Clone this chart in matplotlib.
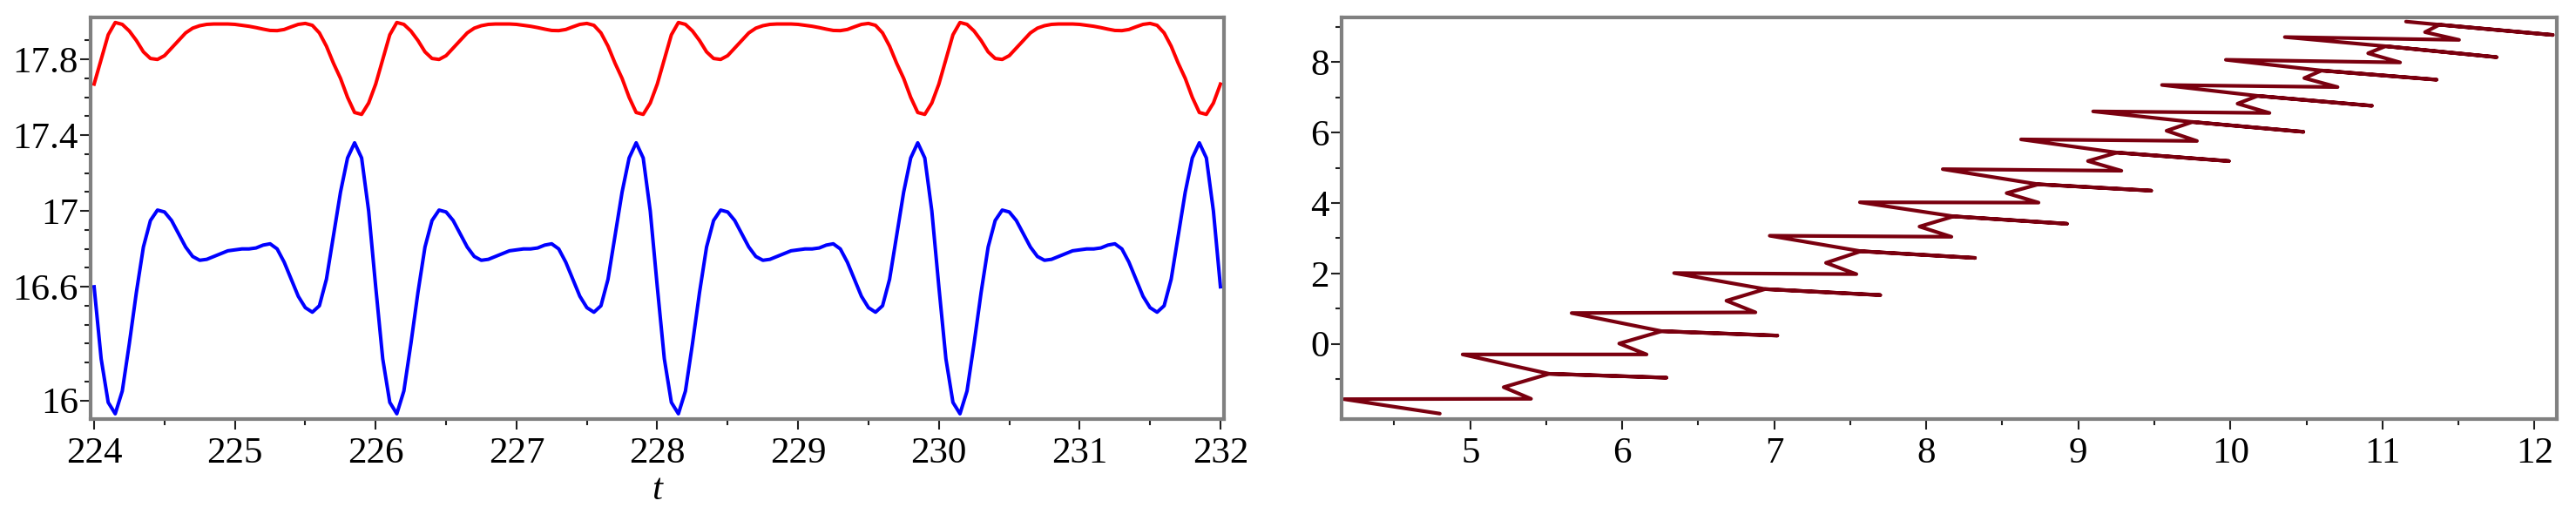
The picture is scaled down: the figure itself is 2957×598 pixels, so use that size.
import matplotlib
matplotlib.use("Agg")
import matplotlib.pyplot as plt
import numpy as np
from matplotlib.ticker import FixedLocator, NullFormatter

# ---- left panel: two time series over t (step 0.05) ----
t_vals = np.linspace(224, 232, 161)

blue_vals = [
    16.60, 16.22, 15.99,
    15.93, 16.05, 16.30, 16.57, 16.81, 16.95, 17.005, 16.995, 16.95, 16.88,
    16.81, 16.76, 16.74, 16.745, 16.76, 16.775, 16.79, 16.795, 16.80, 16.80,
    16.805, 16.82, 16.827, 16.80, 16.73, 16.64, 16.55, 16.49, 16.466, 16.50,
    16.64, 16.87, 17.10, 17.28, 17.36, 17.28, 17.00, 16.60, 16.22, 15.99,
    15.93, 16.05, 16.30, 16.57, 16.81, 16.95, 17.005, 16.995, 16.95, 16.88,
    16.81, 16.76, 16.74, 16.745, 16.76, 16.775, 16.79, 16.795, 16.80, 16.80,
    16.805, 16.82, 16.827, 16.80, 16.73, 16.64, 16.55, 16.49, 16.466, 16.50,
    16.64, 16.87, 17.10, 17.28, 17.36, 17.28, 17.00, 16.60, 16.22, 15.99,
    15.93, 16.05, 16.30, 16.57, 16.81, 16.95, 17.005, 16.995, 16.95, 16.88,
    16.81, 16.76, 16.74, 16.745, 16.76, 16.775, 16.79, 16.795, 16.80, 16.80,
    16.805, 16.82, 16.827, 16.80, 16.73, 16.64, 16.55, 16.49, 16.466, 16.50,
    16.64, 16.87, 17.10, 17.28, 17.36, 17.28, 17.00, 16.60, 16.22, 15.99,
    15.93, 16.05, 16.30, 16.57, 16.81, 16.95, 17.005, 16.995, 16.95, 16.88,
    16.81, 16.76, 16.74, 16.745, 16.76, 16.775, 16.79, 16.795, 16.80, 16.80,
    16.805, 16.82, 16.827, 16.80, 16.73, 16.64, 16.55, 16.49, 16.466, 16.50,
    16.64, 16.87, 17.10, 17.28, 17.36, 17.28, 17.00, 16.60,
]

red_vals = [
    17.67, 17.80, 17.93,
    17.995, 17.985, 17.95, 17.90, 17.84, 17.805, 17.80, 17.82, 17.86, 17.90,
    17.94, 17.965, 17.978, 17.985, 17.987, 17.987, 17.987, 17.985, 17.98, 17.975,
    17.968, 17.96, 17.953, 17.952, 17.958, 17.972, 17.985, 17.99, 17.98, 17.94,
    17.87, 17.78, 17.70, 17.60, 17.52, 17.51, 17.57, 17.67, 17.80, 17.93,
    17.995, 17.985, 17.95, 17.90, 17.84, 17.805, 17.80, 17.82, 17.86, 17.90,
    17.94, 17.965, 17.978, 17.985, 17.987, 17.987, 17.987, 17.985, 17.98, 17.975,
    17.968, 17.96, 17.953, 17.952, 17.958, 17.972, 17.985, 17.99, 17.98, 17.94,
    17.87, 17.78, 17.70, 17.60, 17.52, 17.51, 17.57, 17.67, 17.80, 17.93,
    17.995, 17.985, 17.95, 17.90, 17.84, 17.805, 17.80, 17.82, 17.86, 17.90,
    17.94, 17.965, 17.978, 17.985, 17.987, 17.987, 17.987, 17.985, 17.98, 17.975,
    17.968, 17.96, 17.953, 17.952, 17.958, 17.972, 17.985, 17.99, 17.98, 17.94,
    17.87, 17.78, 17.70, 17.60, 17.52, 17.51, 17.57, 17.67, 17.80, 17.93,
    17.995, 17.985, 17.95, 17.90, 17.84, 17.805, 17.80, 17.82, 17.86, 17.90,
    17.94, 17.965, 17.978, 17.985, 17.987, 17.987, 17.987, 17.985, 17.98, 17.975,
    17.968, 17.96, 17.953, 17.952, 17.958, 17.972, 17.985, 17.99, 17.98, 17.94,
    17.87, 17.78, 17.70, 17.60, 17.52, 17.51, 17.57, 17.67,
]

left_yticks = [16, 16.6, 17, 17.4, 17.8]
left_ylabels = ["16", "16.6", "17", "17.4", "17.8"]
left_xticks = [224, 225, 226, 227, 228, 229, 230, 231, 232]

# ---- right panel: parametric curve, read as key points of each "tooth" ----
start_pt = (4.80, -1.98)
tip_x = [4.17, 4.95, 5.667, 6.341, 6.97, 7.563, 8.108, 8.623, 9.097, 9.55, 9.97, 10.358]
tip_y = [-1.57, -0.30, 0.875, 2.01, 3.07, 4.02, 4.96, 5.805, 6.60, 7.35, 8.065, 8.71]
right_x = [5.40, 6.16, 6.876, 7.54, 8.165, 8.738, 9.283, 9.78, 10.257, 10.705, 11.116, 11.504]
right_y = [-1.56, -0.30, 0.895, 1.98, 3.04, 4.01, 4.915, 5.76, 6.555, 7.29, 7.99, 8.63]
zig_x = [5.22, 5.98, 6.685, 7.34, 7.955, 8.528, 9.063, 9.58, 10.047, 10.486, 10.906, 11.28]
zig_y = [-1.23, 0.01, 1.225, 2.30, 3.33, 4.28, 5.19, 6.05, 6.82, 7.545, 8.25, 8.85]
junc_x = [5.52, 6.26, 6.94, 7.57, 8.18, 8.738, 9.254, 9.75, 10.18, 10.60, 11.02, 11.375]
junc_y = [-0.85, 0.36, 1.555, 2.63, 3.62, 4.53, 5.43, 6.30, 7.04, 7.76, 8.45, 9.06]
end_x = [6.29, 7.02, 7.697, 8.32, 8.925, 9.479, 9.99, 10.48, 10.93, 11.355, 11.75, 12.12]
end_y = [-0.96, 0.235, 1.385, 2.44, 3.41, 4.35, 5.19, 6.02, 6.76, 7.50, 8.14, 8.77]
final_pt = (11.155, 9.15)

right_xticks = [5, 6, 7, 8, 9, 10, 11, 12]
right_yticks = [0, 2, 4, 6, 8]

SPINE = "#808080"
TICKC = "#202020"
SERIF = "Liberation Serif"
FS = 31

plt.rcParams["font.family"] = "serif"
plt.rcParams["font.serif"] = [SERIF, "DejaVu Serif"]

fig = plt.figure(figsize=(29.57, 5.98), dpi=100)
ax1 = fig.add_axes([104 / 2957, 1 - 481 / 598, 1301 / 2957, 461.5 / 598])
ax2 = fig.add_axes([1540 / 2957, 1 - 481 / 598, 1395 / 2957, 461.5 / 598])


def style(ax):
    for s in ax.spines.values():
        s.set_color(SPINE)
        s.set_linewidth(3.0)
    ax.tick_params(which="both", direction="out", color=TICKC, width=1.5,
                   labelsize=FS)
    ax.tick_params(which="major", length=8.5)
    ax.tick_params(which="minor", length=5)
    ax.tick_params(axis="x", which="major", pad=6)
    ax.tick_params(axis="y", which="major", pad=1.5)
    for lab in ax.get_xticklabels() + ax.get_yticklabels():
        lab.set_family(SERIF)


# left panel
ax1.plot(t_vals, red_vals, color="#ff0000", lw=2.9, solid_joinstyle="round")
ax1.plot(t_vals, blue_vals, color="#0000ff", lw=2.9, solid_joinstyle="round")
ax1.set_xlim(223.975, 232.025)
ax1.set_ylim(15.902, 18.024)
ax1.xaxis.set_major_locator(FixedLocator(left_xticks))
ax1.xaxis.set_minor_locator(FixedLocator([v + 0.5 for v in left_xticks[:-1]]))
ax1.yaxis.set_major_locator(FixedLocator(left_yticks))
ax1.set_yticklabels(left_ylabels)
ax1.yaxis.set_minor_locator(FixedLocator(np.round(np.arange(16.0, 17.95, 0.1), 1)))
ax1.xaxis.set_minor_formatter(NullFormatter())
ax1.yaxis.set_minor_formatter(NullFormatter())
style(ax1)
ax1.set_xlabel("t", family=SERIF, fontstyle="italic", fontsize=FS, labelpad=3)

# right panel
px = [start_pt[0]]
py = [start_pt[1]]
for i in range(len(tip_x)):
    px += [tip_x[i], right_x[i], zig_x[i], junc_x[i], end_x[i], junc_x[i]]
    py += [tip_y[i], right_y[i], zig_y[i], junc_y[i], end_y[i], junc_y[i]]
px.append(final_pt[0])
py.append(final_pt[1])
ax2.plot(px, py, color="#7a000f", lw=3.0, solid_joinstyle="round",
         solid_capstyle="round")
ax2.set_xlim(4.154, 12.147)
ax2.set_ylim(-2.135, 9.28)
ax2.xaxis.set_major_locator(FixedLocator(right_xticks))
ax2.xaxis.set_minor_locator(FixedLocator([4.5, 5.5, 6.5, 7.5, 8.5, 9.5, 10.5, 11.5]))
ax2.yaxis.set_major_locator(FixedLocator(right_yticks))
ax2.yaxis.set_minor_locator(FixedLocator([-1, 1, 3, 5, 7, 9]))
ax2.xaxis.set_minor_formatter(NullFormatter())
ax2.yaxis.set_minor_formatter(NullFormatter())
style(ax2)

fig.savefig("out.png", dpi=100)
